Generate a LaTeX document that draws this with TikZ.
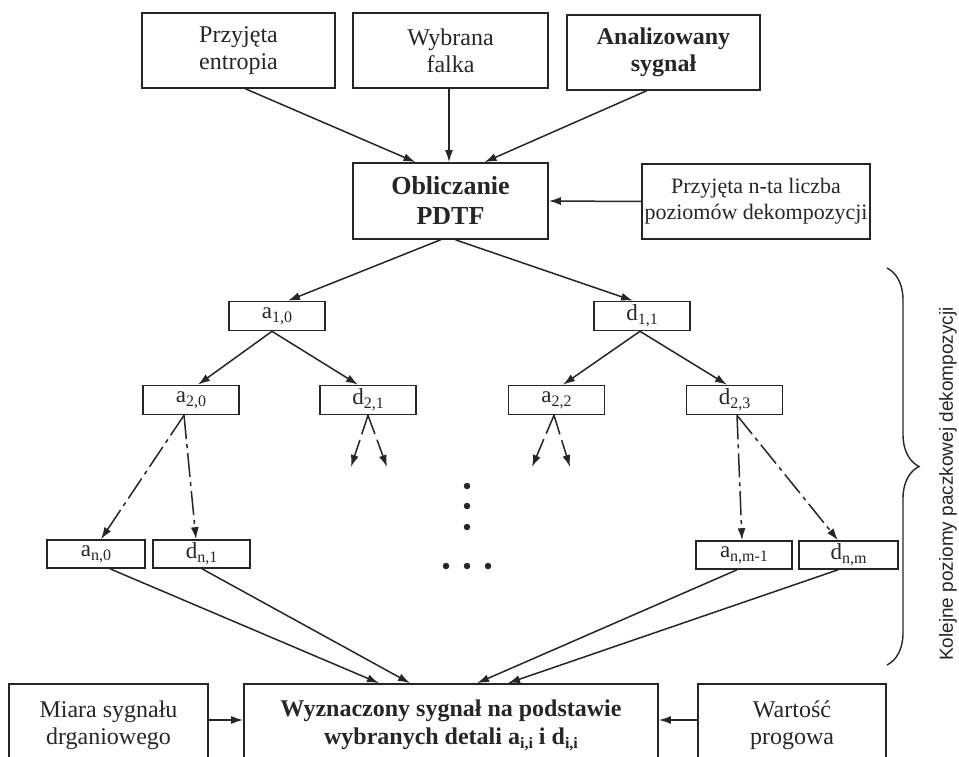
\documentclass[tikz,border=0pt]{standalone}
\usepackage{fontspec}
\setmainfont{Liberation Serif}
\setsansfont{Liberation Sans}
\usetikzlibrary{arrows.meta,decorations.pathreplacing}
\newcommand{\lsub}[1]{\raisebox{-4pt}{\fontsize{16}{16}\selectfont #1}}

\begin{document}
\begin{tikzpicture}[x=1pt,y=-1pt,color=black!85,
box/.style={draw,line width=1.7pt,align=center,inner sep=0pt,minimum height=75pt,font=\fontsize{24}{27}\selectfont},
bigbox/.style={box,font=\fontsize{26}{30}\selectfont\bfseries},
lev/.style={draw,line width=1.6pt,inner sep=0pt,minimum width=96pt,minimum height=29pt,font=\fontsize{23}{24}\selectfont},
link/.style={-{Latex[length=12pt,width=8pt]},line width=1.5pt},
dashdot/.style={link,dash pattern=on 24pt off 5pt on 4pt off 5pt},
stub/.style={link,dash pattern=on 20pt off 6pt},
dot/.style={circle,fill,inner sep=0pt,minimum size=6.5pt}]
	\useasboundingbox (0,0) rectangle (959,757);

	% inputs
	\node[box,minimum width=193pt] (entr) at (238.5,50.5) {Przyjęta\\entropia};
	\node[box,minimum width=195pt] (falka) at (450.5,50.5) {Wybrana\\falka};
	\node[box,minimum width=193pt,font=\fontsize{24}{27}\selectfont\bfseries] (sygn) at (663.5,52.5) {Analizowany\\sygnał};
	\node[bigbox,minimum width=195pt,minimum height=76pt] (pdtf) at (450.5,201) {Obliczanie\\PDTF};
	\node[box,minimum width=228pt,font=\fontsize{22}{26}\selectfont] (poz) at (756,201.5) {Przyjęta n-ta liczba\\poziomów dekompozycji};

	% levels
	\node[lev] (a10) at (277,316) {a\lsub{1,0}};
	\node[lev] (d11) at (642,316) {d\lsub{1,1}};
	\node[lev] (a20) at (191,400) {a\lsub{2,0}};
	\node[lev] (d21) at (368,400) {d\lsub{2,1}};
	\node[lev] (a22) at (556.5,400) {a\lsub{2,2}};
	\node[lev] (d23) at (734.5,400) {d\lsub{2,3}};
	\node[lev,minimum width=98pt,minimum height=28pt] (an0) at (96,554) {a\lsub{n,0}};
	\node[lev,minimum width=97pt,minimum height=28pt] (dn1) at (201.5,554) {d\lsub{n,1}};
	\node[lev,minimum width=96pt,minimum height=28pt] (anm1) at (744,555) {a\lsub{n,m-1}};
	\node[lev,minimum width=99pt,minimum height=28pt] (dnm) at (848.5,555) {d\lsub{n,m}};

	% result
	\node[box,minimum width=199pt,minimum height=82pt] (miara) at (108.5,725) {Miara sygnału\\drganiowego};
	\node[box,minimum width=414pt,minimum height=82pt,font=\fontsize{24}{28}\selectfont\bfseries] (wyzn) at (451,725) {Wyznaczony sygnał na podstawie\\wybranych detali a\lsub{i,i} i d\lsub{i,i}};
	\node[box,minimum width=188pt,minimum height=82pt] (wart) at (792,725) {Wartość\\progowa};

	\draw[link] ([xshift=7pt]entr.south) -- ([xshift=-35pt]pdtf.north);
	\draw[link] ([xshift=-1.5pt]falka.south) -- ([xshift=-1.5pt]pdtf.north);
	\draw[link] ([xshift=-17pt]sygn.south) -- ([xshift=34pt]pdtf.north);
	\draw[link] (poz.west) -- (pdtf.east);
	\draw[link] ([xshift=-10pt]pdtf.south) -- ([xshift=11pt]a10.north);
	\draw[link] ([xshift=5pt]pdtf.south) -- ([xshift=-9pt]d11.north);

	\foreach \f/\fx/\t/\tx in {a10/-5/a20/7, a10/-5/d21/-10, d11/-2/a22/6.5, d11/-2/d23/-7.5} {
		\draw[link] ([xshift=\fx pt]\f.south) -- ([xshift=\tx pt]\t.north);
	}
	\draw[dashdot] ([xshift=-7pt]a20.south) -- ([xshift=5pt]an0.north);
	\draw[dashdot] ([xshift=-7pt]a20.south) -- ([xshift=-5.5pt]dn1.north);
	\draw[dashdot] ([xshift=2.5pt]d23.south) -- ([xshift=-2pt]anm1.north);
	\draw[dashdot] ([xshift=2.5pt]d23.south) -- ([xshift=-10.5pt]dnm.north);

	% unfinished branches
	\coordinate (s1) at (351,467);
	\coordinate (s2) at (387,467);
	\coordinate (s3) at (532,467);
	\coordinate (s4) at (570,467);
	\draw[stub] (d21.south) -- (s1);
	\draw[stub] (d21.south) -- (s2);
	\draw[stub] ([xshift=-2.5pt]a22.south) -- (s3);
	\draw[stub] ([xshift=-2.5pt]a22.south) -- (s4);

	\foreach \f/\fx/\tx in {an0/14/-72, dn1/0.5/-41, anm1/-7/26, dnm/-10.5/57} {
		\draw[link] ([xshift=\fx pt]\f.south) -- ([xshift=\tx pt]wyzn.north);
	}
	\draw[link] ([yshift=5pt]miara.east) -- ([yshift=5pt]wyzn.west);
	\draw[link] ([yshift=5pt]wart.west) -- ([yshift=5pt]wyzn.east);

	% dots
	\foreach \i/\x/\y in {1/467/486, 2/467/506, 3/467/527, 4/446/566, 5/467/566, 6/488/566} {
		\node[dot] (p\i) at (\x,\y) {};
	}

	\draw[decorate,decoration={brace,amplitude=32pt},line width=1.4pt] (887,268) -- (887,665);
	\node[rotate=90,font=\sffamily\fontsize{19}{20}\selectfont] (lbl) at (948,484) {Kolejne poziomy paczkowej dekompozycji};
\end{tikzpicture}
\end{document}
